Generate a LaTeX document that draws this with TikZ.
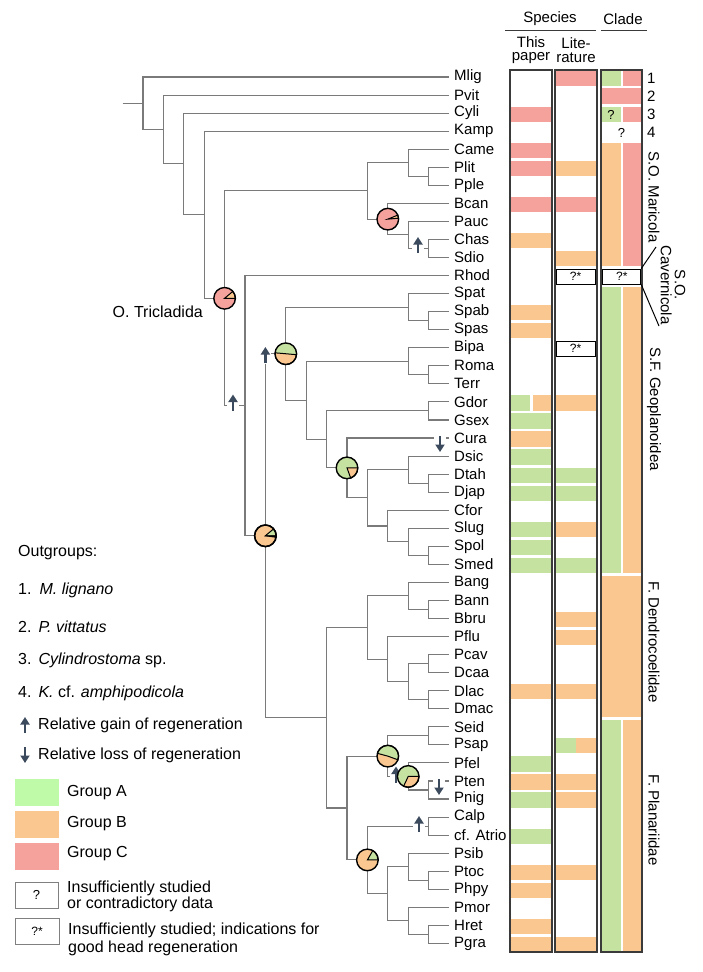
\documentclass[tikz,border=0pt]{standalone}
\usepackage{fontspec}
\setmainfont{Liberation Sans}
\usetikzlibrary{arrows.meta}

\definecolor{cgreen}{HTML}{C6E2A1}
\definecolor{lgreen}{HTML}{BEFAA8}
\definecolor{corange}{HTML}{F9C78F}
\definecolor{cred}{HTML}{F5A29D}
\definecolor{treegray}{HTML}{7A7A7A}
\definecolor{arrowblue}{HTML}{3C4A5D}
\definecolor{boxgray}{HTML}{3A3A3A}

\tikzset{
  branch/.style={draw=treegray, line width=1.1pt},
  leaf/.style={anchor=west, inner xsep=5pt, inner ysep=0pt, font=\fontsize{15}{18}\selectfont},
  hdr/.style={inner sep=0pt, align=center, font=\fontsize{15}{13.5}\selectfont},
  side/.style={inner sep=0pt, align=center, font=\fontsize{15}{14}\selectfont},
  legtext/.style={anchor=west, inner sep=0pt, align=left, font=\fontsize{16}{16}\selectfont},
  swatch/.style={minimum width=44pt, minimum height=27pt, inner sep=0pt},
  colbox/.style={draw=boxgray, line width=1.3pt},
  qbox/.style={draw=black, line width=0.9pt, inner sep=0pt, font=\fontsize{12}{12}\selectfont},
  piering/.style={draw=black, line width=1.4pt},
  slice/.style={draw=black, line width=1pt},
  regarrow/.style={draw=arrowblue, line width=2.3pt, -{Triangle[length=7.5pt,width=9pt]}},
  gain/.pic={\fill[white] (-6,-9) rectangle (6,9); \draw[regarrow] (0,8) -- (0,-8);},
  loss/.pic={\fill[white] (-6,-9) rectangle (6,9); \draw[regarrow] (0,-8) -- (0,8);},
}

\begin{document}
\begin{tikzpicture}[x=1pt, y=-1pt]
\useasboundingbox (0,0) rectangle (703,972);

\foreach \n/\t [count=\i from 0] in {Mlig/Mlig, Pvit/Pvit, Cyli/Cyli, Kamp/Kamp, Came/Came, Plit/Plit, Pple/Pple, Bcan/Bcan, Pauc/Pauc, Chas/Chas, Sdio/Sdio, Rhod/Rhod, Spat/Spat, Spab/Spab, Spas/Spas, Bipa/Bipa, Roma/Roma, Terr/Terr, Gdor/Gdor, Gsex/Gsex, Cura/Cura, Dsic/Dsic, Dtah/Dtah, Djap/Djap, Cfor/Cfor, Slug/Slug, Spol/Spol, Smed/Smed, Bang/Bang, Bann/Bann, Bbru/Bbru, Pflu/Pflu, Pcav/Pcav, Dcaa/Dcaa, Dlac/Dlac, Dmac/Dmac, Seid/Seid, Psap/Psap, Pfel/Pfel, Pten/Pten, Pnig/Pnig, Calp/Calp, Atrio/cf. Atrio, Psib/Psib, Ptoc/Ptoc, Phpy/Phpy, Pmor/Pmor, Hret/Hret, Pgra/Pgra}
  \node[leaf] (\n) at (449,{77+18.05*\i}) {\t};

\coordinate (nPP) at (428.6,176.28);
\coordinate (nCPP) at (408.2,162.74);
\coordinate (nCS) at (428.6,248.48);
\coordinate (nPCS) at (408.2,234.94);
\coordinate (nBc) at (387.8,219.14);
\coordinate (nMar) at (367.4,190.94);
\coordinate (nSS) at (428.6,320.68);
\coordinate (nSp) at (408.2,307.14);
\coordinate (nRT) at (428.6,374.83);
\coordinate (nBRT) at (408.2,361.29);
\coordinate (nGG) at (428.6,410.93);
\coordinate (nDD) at (428.6,483.13);
\coordinate (nDs) at (408.2,469.59);
\coordinate (nSM) at (428.6,555.33);
\coordinate (nSl) at (408.2,541.79);
\coordinate (nCf) at (387.8,525.99);
\coordinate (nDug) at (367.4,497.79);
\coordinate (nCura) at (347,467.9);
\coordinate (nGd) at (326.6,439.41);
\coordinate (nGeoB) at (306.2,400.35);
\coordinate (nGeo) at (285.8,353.75);
\coordinate (nBB) at (428.6,609.48);
\coordinate (nBang) at (408.2,595.94);
\coordinate (nPD) at (428.6,663.63);
\coordinate (nDM) at (428.6,699.73);
\coordinate (nPDM) at (408.2,681.68);
\coordinate (nPflu) at (387.8,659.11);
\coordinate (nDen) at (367.4,627.53);
\coordinate (nSP) at (428.6,735.83);
\coordinate (nPN) at (428.6,789.98);
\coordinate (nPfel) at (408.2,776.44);
\coordinate (nPUp) at (387.8,756.13);
\coordinate (nCA) at (428.6,826.08);
\coordinate (nPT) at (428.6,880.23);
\coordinate (nPsib) at (408.2,866.69);
\coordinate (nHP) at (428.6,934.38);
\coordinate (nPmor) at (408.2,920.84);
\coordinate (nPsPm) at (387.8,893.76);
\coordinate (nPLo) at (367.4,859.92);
\coordinate (nPla) at (347,808.03);
\coordinate (nDP) at (326.6,717.78);
\coordinate (nCont) at (265.4,535.76);
\coordinate (nCC) at (245,405.66);
\coordinate (nTri) at (224.6,298.3);
\coordinate (nKamp) at (204.2,214.73);
\coordinate (nCyli) at (183.8,163.91);
\coordinate (nPvit) at (163.4,129.48);
\coordinate (nRoot) at (143,103.24);
\coordinate (nStub) at (122.6,103.24);

\draw[branch] (nStub) -- (nRoot);
\foreach \a/\p/\b in {Mlig.west/nRoot/nPvit, Pvit.west/nPvit/nCyli, Cyli.west/nCyli/nKamp, Kamp.west/nKamp/nTri, nMar/nTri/nCC, Rhod.west/nCC/nCont,
  nCPP/nMar/nBc, Came.west/nCPP/nPP, Plit.west/nPP/Pple.west, Bcan.west/nBc/nPCS, Pauc.west/nPCS/nCS, Chas.west/nCS/Sdio.west,
  nGeo/nCont/nDP, nSp/nGeo/nGeoB, Spat.west/nSp/nSS, Spab.west/nSS/Spas.west, nBRT/nGeoB/nGd, Bipa.west/nBRT/nRT, Roma.west/nRT/Terr.west,
  nGG/nGd/nCura, Gdor.west/nGG/Gsex.west, Cura.west/nCura/nDug, nDs/nDug/nCf, Dsic.west/nDs/nDD, Dtah.west/nDD/Djap.west,
  Cfor.west/nCf/nSl, Slug.west/nSl/nSM, Spol.west/nSM/Smed.west,
  nDen/nDP/nPla, nBang/nDen/nPflu, Bang.west/nBang/nBB, Bann.west/nBB/Bbru.west, Pflu.west/nPflu/nPDM, nPD/nPDM/nDM, Pcav.west/nPD/Dcaa.west, Dlac.west/nDM/Dmac.west,
  nPUp/nPla/nPLo, nSP/nPUp/nPfel, Seid.west/nSP/Psap.west, Pfel.west/nPfel/nPN, Pten.west/nPN/Pnig.west,
  nCA/nPLo/nPsPm, Calp.west/nCA/Atrio.west, nPsib/nPsPm/nPmor, Psib.west/nPsib/nPT, Ptoc.west/nPT/Phpy.west, Pmor.west/nPmor/nHP, Hret.west/nHP/Pgra.west}
  \draw[branch] (\a) -| (\p) |- (\b);

\pic at (418,245) {gain};
\pic at (233,402.5) {gain};
\pic at (265.4,355) {gain};
\pic at (440,444) {loss};
\pic at (396,774.5) {gain};
\pic at (439,787) {loss};
\pic at (419,824) {gain};

\foreach \c/\base/\wc/\wa/\wb in {nTri/cred/corange/0/-40, nBc/cred/corange/-5/-22, nGeo/cgreen/corange/-175/-355, nCont/corange/cgreen/0/-40, nCura/cgreen/corange/70/0, nPUp/corange/cgreen/20/-165, nPfel/cgreen/corange/115/0, nPLo/corange/cgreen/0/-60} {
  \fill[\base] (\c) circle (10.8);
  \filldraw[fill=\wc, slice] (\c) -- ++(\wa:10.8) arc (\wa:\wb:10.8) -- cycle;
  \draw[piering] (\c) circle (10.8);
}
\filldraw[fill=cred, slice] (nCont) -- ++(8:10.8) arc (8:0:10.8) -- cycle;
\draw[piering] (nCont) circle (10.8);

\node[anchor=east, inner sep=0pt, font=\fontsize{16}{16}\selectfont] (tricladida) at (203,312) {O. Tricladida};

% species columns
\foreach \r/\c in {2/cred, 4/cred, 5/cred, 7/cred, 9/corange, 13/corange, 14/corange, 19/cgreen, 20/corange, 21/cgreen, 22/cgreen, 23/cgreen, 25/cgreen, 26/cgreen, 27/cgreen, 34/corange, 38/cgreen, 39/corange, 40/cgreen, 42/cgreen, 44/corange, 45/corange, 47/corange, 48/corange}
  \fill[\c] (510.7,{70.4+18.05*\r}) rectangle (551.3,{85.6+18.05*\r});
\fill[cgreen] (510.7,{70.4+18.05*18}) rectangle (529.5,{85.6+18.05*18});
\fill[corange] (532.5,{70.4+18.05*18}) rectangle (551.3,{85.6+18.05*18});
\foreach \r/\c in {0/cred, 5/corange, 7/cred, 10/corange, 18/corange, 22/cgreen, 23/cgreen, 25/corange, 27/cgreen, 30/corange, 31/corange, 34/corange, 39/corange, 40/corange, 44/corange, 48/corange}
  \fill[\c] (555.7,{70.4+18.05*\r}) rectangle (596.3,{85.6+18.05*\r});
\fill[cgreen] (555.7,{70.4+18.05*37}) rectangle (575.5,{85.6+18.05*37});
\fill[corange] (575.5,{70.4+18.05*37}) rectangle (596.3,{85.6+18.05*37});
\node[qbox, minimum width=39pt, minimum height=15pt] (litRhod) at (575.5,{78+18.05*11}) {?*};
\node[qbox, minimum width=39pt, minimum height=15pt] (litBipa) at (575.5,{78+18.05*15}) {?*};

% clade column
\fill[cgreen] (601.7,70.7) rectangle (620.8,85.6);
\fill[cred] (622.8,70.7) rectangle (641.3,85.6);
\fill[cred] (601.7,88.45) rectangle (641.3,103.65);
\fill[cgreen] (601.7,106.5) rectangle (620.8,121.7);
\fill[cred] (622.8,106.5) rectangle (641.3,121.7);
\fill[corange] (601.7,142.6) rectangle (620.8,266.1);
\fill[cred] (622.8,142.6) rectangle (641.3,266.1);
\fill[cgreen] (601.7,287) rectangle (620.8,573);
\fill[corange] (622.8,287) rectangle (641.3,573);
\fill[corange] (601.7,575.8) rectangle (641.3,717.35);
\fill[cgreen] (601.7,720.2) rectangle (620.8,951.3);
\fill[corange] (622.8,720.2) rectangle (641.3,951.3);
\node[inner sep=0pt, font=\fontsize{13}{13}\selectfont] (qCyli) at (611,115) {?};
\node[inner sep=0pt, font=\fontsize{13}{13}\selectfont] (qKamp) at (621.5,133) {?};
\node[qbox, minimum width=38pt, minimum height=15pt] (cladeRhod) at (621.8,{78+18.05*11}) {?*};

\draw[colbox] (510,70) rectangle (552,952);
\draw[colbox] (555,70) rectangle (597,952);
\draw[colbox] (601,70) rectangle (642,952);

\node[hdr] (species) at (550,19) {Species};
\node[hdr] (clade) at (623,19) {Clade};
\draw[draw=boxgray, line width=1pt] (505,30) -- (596,30);
\draw[draw=boxgray, line width=1pt] (601,30) -- (647,30);
\node[hdr] (thispaper) at (531,50) {This\\paper};
\node[hdr] (literature) at (576,50) {Lite-\\rature};

\node[side, anchor=west] (grp1) at (647,78) {1};
\node[side, anchor=west] (grp2) at (647,96) {2};
\node[side, anchor=west] (grp3) at (647,114) {3};
\node[side, anchor=west] (grp4) at (647,132) {4};
\node[side, rotate=-90] (maricola) at (654,197) {S.O. Maricola};
\node[side, rotate=-90] (cavernicola) at (673,285) {S.O.\\Cavernicola};
\node[side, rotate=-90] (geoplan) at (654,409) {S.F. Geoplanoidea};
\node[side, rotate=-90] (dendro) at (654,642) {F. Dendrocoelidae};
\node[side, rotate=-90] (planar) at (654,820) {F. Planariidae};
\coordinate (cavA) at (656,247);
\coordinate (cavB) at (659,326);
\draw[line width=1pt] (cladeRhod.north east) -- (cavA);
\draw[line width=1pt] (cladeRhod.south east) -- (cavB);

% legend
\node[legtext] (outg) at (18,553) {Outgroups:};
\node[legtext] (og1) at (18,590) {1.\hspace{8pt}\textit{M. lignano}};
\node[legtext] (og2) at (18,627) {2.\hspace{7pt}\textit{P. vittatus}};
\node[legtext] (og3) at (18,660) {3.\hspace{7pt}\textit{Cylindrostoma} sp.};
\node[legtext] (og4) at (18,693) {4.\hspace{7pt}\textit{K.} cf. \textit{amphipodicola}};
\pic at (25,725) {gain};
\node[legtext] (leggain) at (38,725) {Relative gain of regeneration};
\pic at (25,755) {loss};
\node[legtext] (legloss) at (38,755) {Relative loss of regeneration};
\node[swatch, fill=lgreen] (swA) at (37,792.5) {};
\node[swatch, fill=corange] (swB) at (37,824) {};
\node[swatch, fill=cred] (swC) at (37,856) {};
\node[legtext] (legA) at (67,793) {Group A};
\node[legtext] (legB) at (67,824) {Group B};
\node[legtext] (legC) at (67,854) {Group C};
\node[qbox, draw=gray, minimum width=43pt, minimum height=26pt, font=\fontsize{13}{13}\selectfont] (legq) at (36.5,895) {?};
\node[qbox, draw=gray, minimum width=44pt, minimum height=26pt] (legqs) at (37,931) {?*};
\node[legtext] (legqt) at (67,896) {Insufficiently studied\\or contradictory data};
\node[legtext, font=\fontsize{16}{18}\selectfont] (legqst) at (68,939) {Insufficiently studied; indications for\\good head regeneration};
\end{tikzpicture}
\end{document}
